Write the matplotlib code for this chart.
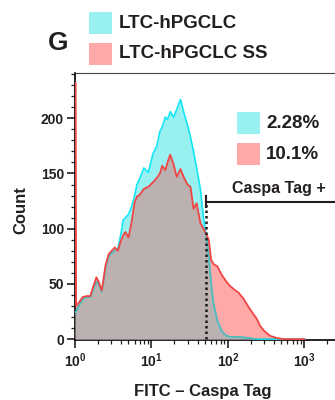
import numpy as np
import matplotlib
matplotlib.use('Agg')
import matplotlib.pyplot as plt
from matplotlib.patches import Rectangle
from matplotlib.ticker import MultipleLocator, LogLocator

plt.rcParams['font.family'] = ['Liberation Sans', 'DejaVu Sans']
plt.rcParams['font.weight'] = 'bold'
plt.rcParams['mathtext.fontset'] = 'custom'
plt.rcParams['mathtext.rm'] = 'Liberation Sans:bold'
plt.rcParams['mathtext.it'] = 'Liberation Sans:bold'
plt.rcParams['mathtext.bf'] = 'Liberation Sans:bold'

# données (position en log10 de FITC, nombre de cellules)
fitc_log = [0.0, 0.008, 0.014, 0.05, 0.1, 0.15, 0.2, 0.25, 0.28, 0.31, 0.35, 0.4, 0.44, 0.48,
            0.52, 0.56, 0.6, 0.63, 0.66, 0.7, 0.74, 0.78, 0.81, 0.85, 0.9, 0.96, 1.02,
            1.07, 1.11, 1.14, 1.18, 1.21, 1.245, 1.29, 1.33, 1.38, 1.42, 1.47, 1.51,
            1.55, 1.59, 1.64, 1.68, 1.71, 1.75, 1.78, 1.81, 1.86, 1.92, 1.98, 2.03,
            2.08, 2.14, 2.21, 2.27, 2.32, 2.38, 2.42, 2.48, 2.55, 2.64, 2.73, 2.85, 3.0]
count_ltc = [24, 24, 25, 30, 36, 38, 38, 47, 52, 50, 43, 65, 75, 78,
             80, 82, 95, 108, 110, 113, 120, 130, 140, 146, 155, 151, 168,
             175, 188, 192, 201, 199, 206, 201, 208, 217, 206, 194, 183,
             170, 155, 136, 110, 96, 75, 51, 33, 17, 7, 3, 2,
             2, 2, 1.5, 1, 0.5, 0, 0, 0, 0, 0, 0, 0, 0]
count_ss = [232, 232, 30, 33, 38, 39, 39, 50, 56, 52, 44, 67, 77, 80,
            83, 80, 89, 94, 97, 92, 106, 124, 129, 131, 136, 138, 142,
            146, 150, 157, 153, 160, 167, 158, 147, 154, 147, 140, 138,
            118, 123, 105, 100, 96, 90, 72, 68, 66, 58, 52, 48,
            45, 42, 36, 29, 24, 18, 12, 7, 3, 1, 0, 0, 0]

noms = ['LTC-hPGCLC', 'LTC-hPGCLC SS']
pourcentages = ['2.28%', '10.1%']
porte = 51.1          # seuil Caspa Tag +
porte_y = 124.5

fitc = 10 ** np.array(fitc_log)
c1 = np.array(count_ltc)
c2 = np.array(count_ss)

texte = '#231f20'
cyan_fond = '#98f0f0'
cyan_trait = '#14e6f5'
rouge_fond = '#ffa9a9'
rouge_trait = '#f04545'
gris = '#bcb1b1'

fig = plt.figure(figsize=(3.35, 4.0), dpi=100)
ax = fig.add_axes([75 / 335, 60 / 400, 260 / 335, 267 / 400])

ax.fill_between(fitc, 0, c1, color=cyan_fond, lw=0, zorder=1)
zone_rouge = ax.fill_between(fitc, 0, c2, color=rouge_fond, lw=0, zorder=2)
ax.fill_between(fitc, 0, np.minimum(c1, c2), color=gris, lw=0, zorder=3)
ax.plot(fitc, c1, color=cyan_trait, lw=1.2, zorder=4)
l2, = ax.plot(fitc, c1, color='#5fb4b4', lw=1.2, zorder=5)
l2.set_clip_path(zone_rouge.get_paths()[0], ax.transData)
ax.plot(fitc, c2, color=rouge_trait, lw=1.3, zorder=6)

# porte
ax.plot([porte, porte], [0, porte_y], color='#1a1a1a', lw=1.8, ls=(0, (1, 1.2)), zorder=7)
ax.plot([porte, 10 ** 3.4], [porte_y, porte_y], color='#231f20', lw=1.5, zorder=7)
ax.plot([porte, porte], [porte_y - 5, porte_y + 5], color='#231f20', lw=1.5, zorder=7)
ax.text(10 ** 2.66, 136, 'Caspa Tag +', ha='center', va='center', fontsize=11.5,
        color=texte, fontweight='bold')

ax.set_xscale('log')
ax.set_xlim(1, 10 ** 3.4)
ax.set_ylim(-0.8, 241)
ax.xaxis.set_major_locator(LogLocator(base=10, numticks=10))
ax.xaxis.set_minor_locator(LogLocator(base=10, subs=np.arange(2, 10), numticks=20))
ax.yaxis.set_major_locator(MultipleLocator(50))
ax.yaxis.set_minor_locator(MultipleLocator(10))

ax.spines['right'].set_visible(False)
ax.spines['left'].set_linewidth(1.2)
ax.spines['bottom'].set_linewidth(1.2)
ax.spines['top'].set_linewidth(0.8)
ax.spines['top'].set_color('#444444')
ax.tick_params(which='major', length=6, width=1.2, colors=texte, labelsize=10, pad=2)
ax.tick_params(which='minor', length=3, width=0.9, colors=texte)

ax.set_xlabel('FITC – Caspa Tag', fontsize=12, color=texte, fontweight='bold')
ax.xaxis.set_label_coords(0.49, -0.165)
ax.set_ylabel('Count', fontsize=12, color=texte, fontweight='bold')
ax.yaxis.set_label_coords(-0.18, 0.487)

# légende en haut
fig.text(48 / 335, 1 - 43 / 400, 'G', fontsize=19, fontweight='bold', color=texte, va='center')
for i, (nom, col) in enumerate(zip(noms, [cyan_fond, rouge_fond])):
    yc = [23, 54][i]
    fig.patches.append(Rectangle((89 / 335, 1 - (yc + 11) / 400), 23 / 335, 22 / 400,
                                 transform=fig.transFigure, color=col, lw=0))
    fig.text(119 / 335, 1 - yc / 400, nom, fontsize=13.5, fontweight='bold',
             color=texte, va='center')

# pourcentages
for i, (p, col) in enumerate(zip(pourcentages, [cyan_fond, rouge_fond])):
    yc = [123, 154][i]
    fig.patches.append(Rectangle((237 / 335, 1 - (yc + 11) / 400), 23 / 335, 22 / 400,
                                 transform=fig.transFigure, color=col, lw=0))
    fig.text(266 / 335, 1 - (yc + 1) / 400, p, fontsize=13.5, fontweight='bold',
             color=texte, va='center')

plt.savefig('out.png', dpi=100)
plt.close()
